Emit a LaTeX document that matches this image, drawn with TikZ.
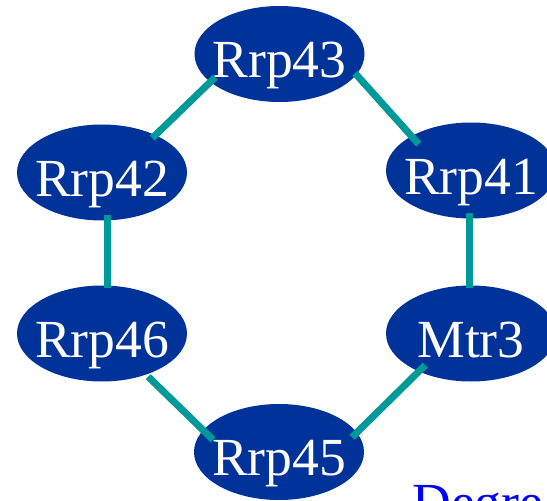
\documentclass[tikz,border=0pt]{standalone}
\usepackage{fontspec}
\setmainfont{Liberation Serif}
\usetikzlibrary{shapes.geometric}
\definecolor{protblue}{RGB}{0,51,153}
\definecolor{linkteal}{RGB}{0,153,153}
\tikzset{
  prot/.style={ellipse,fill=protblue,text=white,minimum width=3.4cm,minimum height=1.92cm,
    inner xsep=-6mm,inner ysep=0pt,outer sep=0pt,font=\fontsize{30.5}{32}\selectfont,
    text height=30pt,text depth=3pt},
  lnk/.style={draw=linkteal,line width=0.14cm},
  hd/.style={font=\fontsize{30.5}{32}\selectfont,text=blue,anchor=base west,inner sep=0pt},
}
\begin{document}
\begin{tikzpicture}
\useasboundingbox (0,0) rectangle (10.94,-10.02);
\clip (0,0) rectangle (10.94,-10.02);
% ---- proteins of the ring
\node[prot] (r43) at (5.59,-1.08) {Rrp43};
\node[prot] (r42) at (2.04,-3.45) {Rrp42};
\node[prot] (r41) at (9.42,-3.41) {Rrp41};
\node[prot] (r46) at (2.04,-6.67) {Rrp46};
\node[prot] (mtr3) at (9.42,-6.67) {Mtr3};
\node[prot] (r45) at (5.58,-9.04) {Rrp45};
% ---- contacts; the lines run a little into the ellipses
\draw[lnk,shorten <=-2.4pt,shorten >=-3.9pt] (r42.35) -- (r43.202);
\draw[lnk,shorten <=-1.1pt,shorten >=-6.1pt] (r43.345) -- (r41.150);
\draw[lnk,shorten <=-3.1pt,shorten >=-1.4pt] (r42.276) -- (r46.84);
\draw[lnk,shorten <=-3.1pt,shorten >=-1.4pt] (r41.268) -- (mtr3.92);
\draw[lnk,shorten <=1.7pt,shorten >=-7.8pt] (r46.317) -- (r45.164);
\draw[lnk,shorten <=-5.1pt,shorten >=-3.7pt] (mtr3.216) -- (r45.14);
% ---- caption cut off by the lower edge
\node[hd] (deg) at (8.24,-10.40) {Degre};
\end{tikzpicture}
\end{document}
